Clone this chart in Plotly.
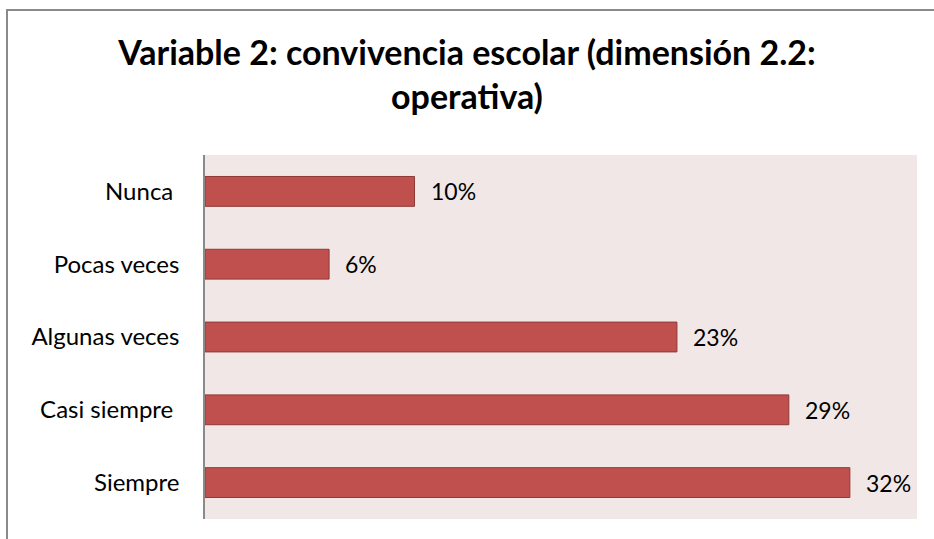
import plotly.graph_objects as go

# Data (share of answers)
# (the original labels "Nunca" and "Casi siempre" carry a trailing space)
categories = ["Nunca\u00a0", "Pocas veces", "Algunas veces", "Casi siempre\u00a0", "Siempre"]
values = [0.103, 0.061, 0.232, 0.287, 0.317]
labels = ["10%", "6%", "23%", "29%", "32%"]

FONT = "Lato, Open Sans, sans-serif"
W, H = 934, 539
ML, MR, MT, MB = 205, 17, 155, 20
pw, ph = W - ML - MR, H - MT - MB

fig = go.Figure()
fig.add_trace(go.Bar(
    y=categories, x=values, orientation="h",
    marker=dict(color="#C0504D", line=dict(color="#8E3A38", width=1)),
    hoverinfo="skip",
))

# data labels to the right of each bar
for c, v, t in zip(categories, values, labels):
    fig.add_annotation(x=v, y=c, text=t, showarrow=False, xanchor="left",
                       xshift=14, font=dict(family=FONT, size=23, color="#000"))

# outer chart border (runs off the right/bottom of the picture)
def px_x(p):
    return (p - ML) / pw

def px_y(p):
    return (H - MB - p) / ph

fig.add_shape(type="rect", xref="paper", yref="paper",
              x0=px_x(7), x1=px_x(945), y0=px_y(10), y1=px_y(560),
              line=dict(color="#8A8A8A", width=2), fillcolor="rgba(0,0,0,0)")

fig.update_layout(
    width=W, height=H,
    margin=dict(l=ML, r=MR, t=MT, b=MB),
    paper_bgcolor="white",
    plot_bgcolor="#F2E7E7",
    bargap=0.59,
    showlegend=False,
    title=dict(
        text="<b>Variable 2: convivencia escolar (dimensión 2.2:<br>operativa)</b>",
        x=0.5, xanchor="center", xref="container",
        y=0.88, yanchor="top",
        font=dict(family=FONT, size=34, color="#000"),
    ),
    xaxis=dict(range=[0, 0.35], showgrid=False, zeroline=False,
               showticklabels=False, ticks="", fixedrange=True),
    yaxis=dict(categoryorder="array", categoryarray=categories[::-1],
               showline=True, linecolor="#8A8A8A", linewidth=1.5,
               ticks="", ticklabelstandoff=19, showgrid=False,
               tickfont=dict(family=FONT, size=24, color="#000")),
)

fig.write_html("out.html", config={"displayModeBar": False},
               post_script="document.body.style.margin='0';")
